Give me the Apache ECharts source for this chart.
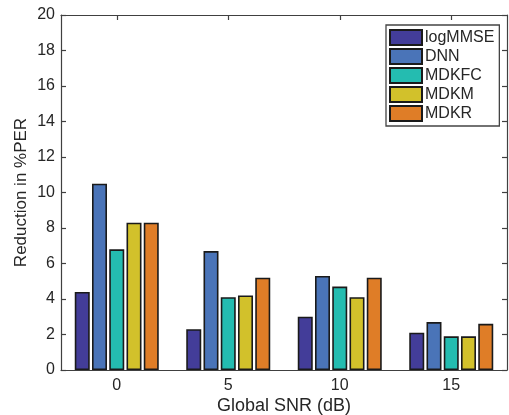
<!DOCTYPE html>
<html>
<head>
<meta charset="utf-8">
<script src="https://cdn.jsdelivr.net/npm/echarts@6/dist/echarts.min.js"></script>
<style>
  html, body { margin: 0; padding: 0; background: #fff; }
  #chart { width: 509px; height: 415px; }
</style>
</head>
<body>
<div id="chart"></div>
<script>
// data
var snrLabels = ['0', '5', '10', '15'];
var seriesNames = ['logMMSE', 'DNN', 'MDKFC', 'MDKM', 'MDKR'];
var logMMSE = [4.4, 2.3, 3.0, 2.1];
var dnn     = [10.5, 6.7, 5.3, 2.7];
var mdkfc   = [6.8, 4.1, 4.7, 1.9];
var mdkm    = [8.3, 4.2, 4.1, 1.9];
var mdkr    = [8.3, 5.2, 5.2, 2.6];
var yTicks  = { min: 0, max: 20, step: 2 };

var colors = ['#433d99', '#4a74b8', '#24bcb0', '#d2c12b', '#df7d27'];
var seriesData = [logMMSE, dnn, mdkfc, mdkm, mdkr];

var axisColor = '#404040';
var textColor = '#262626';
var fontFam = 'Liberation Sans, Arial, sans-serif';

var chart = echarts.init(document.getElementById('chart'));

var series = [];
for (var i = 0; i < seriesNames.length; i++) {
    series.push({
        name: seriesNames[i],
        type: 'bar',
        xAxisIndex: 0,
        yAxisIndex: 0,
        barWidth: 15,
        barGap: '15%',
        itemStyle: {
            color: colors[i],
            borderColor: '#1a1a1a',
            borderWidth: 1.6
        },
        emphasis: { disabled: true },
        data: seriesData[i]
    });
}

// shared look for the box axes (ticks point inward like matlab)
function tickStyle() {
    return { show: true, inside: true, alignWithLabel: true, length: 5, lineStyle: { color: axisColor, width: 1.2 } };
}
function lineStyle() {
    return { show: true, onZero: false, lineStyle: { color: axisColor, width: 1.2 } };
}

var option = {
    animation: false,
    backgroundColor: '#fff',
    grid: { left: 61, top: 15, right: 2, bottom: 45, containLabel: false, outerBoundsMode: 'none' },
    legend: {
        orient: 'vertical',
        left: 386,
        top: 25,
        padding: [4, 5, 4, 3],
        itemWidth: 32,
        itemHeight: 15,
        itemGap: 2,
        icon: 'rect',
        borderColor: '#444',
        borderWidth: 1.3,
        backgroundColor: '#fff',
        textStyle: { color: textColor, fontSize: 16, fontFamily: fontFam, padding: [0, 0, 0, -2] },
        data: seriesNames
    },
    xAxis: [{
        type: 'category',
        position: 'bottom',
        data: snrLabels,
        name: 'Global SNR (dB)',
        nameLocation: 'middle',
        nameGap: 27,
        nameMoveOverlap: false,
        nameTextStyle: { color: textColor, fontSize: 18, fontFamily: fontFam },
        axisLine: lineStyle(),
        axisTick: tickStyle(),
        axisLabel: { color: textColor, fontSize: 16, fontFamily: fontFam, margin: 8 },
        splitLine: { show: false }
    }, {
        type: 'category',
        position: 'top',
        data: snrLabels,
        axisLine: lineStyle(),
        axisTick: tickStyle(),
        axisLabel: { show: false },
        splitLine: { show: false }
    }],
    yAxis: [{
        type: 'value',
        position: 'left',
        min: yTicks.min,
        max: yTicks.max,
        interval: yTicks.step,
        name: 'Reduction in %PER',
        nameLocation: 'middle',
        nameGap: 31,
        nameMoveOverlap: false,
        nameTextStyle: { color: textColor, fontSize: 17, fontFamily: fontFam },
        axisLine: lineStyle(),
        axisTick: tickStyle(),
        axisLabel: { color: textColor, fontSize: 16, fontFamily: fontFam, margin: 6 },
        splitLine: { show: false }
    }, {
        type: 'value',
        position: 'right',
        min: yTicks.min,
        max: yTicks.max,
        interval: yTicks.step,
        axisLine: lineStyle(),
        axisTick: tickStyle(),
        axisLabel: { show: false },
        splitLine: { show: false }
    }],
    series: series
};

chart.setOption(option);
</script>
</body>
</html>
